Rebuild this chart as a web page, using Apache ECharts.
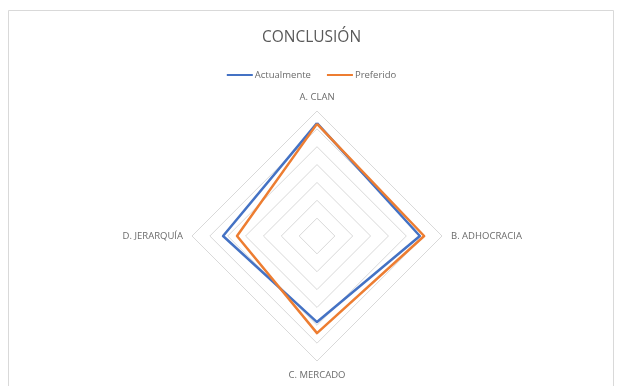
<!DOCTYPE html>
<html><head><meta charset="utf-8">
<script src="https://cdn.jsdelivr.net/npm/echarts@6/dist/echarts.min.js"></script>
<style>html,body{margin:0;padding:0;background:#fff}#c{width:623px;height:386px}</style>
</head><body><div id="c"></div>
<script>
const categories = ['A. CLAN', 'B. ADHOCRACIA', 'C. MERCADO', 'D. JERARQUÍA'];
const seriesNames = ['Actualmente', 'Preferido'];
const actualmente = [31.6, 28.8, 24.1, 26.3];
const preferido = [31.4, 30.0, 27.2, 22.4];
const axisMax = 35;
const ringCount = 7;

// ECharts places radar axes counter-clockwise; Excel goes clockwise.
const order = [0, 3, 2, 1];
const pick = arr => order.map(i => arr[i]);

const chart = echarts.init(document.getElementById('c'), null, {renderer: 'canvas'});
chart.setOption({
  animation: false,
  backgroundColor: '#fff',
  graphic: [{
    type: 'rect', shape: {x: 8.5, y: 10.5, width: 605, height: 390},
    style: {fill: 'none', stroke: '#d9d9d9', lineWidth: 1}, silent: true
  }],
  title: {
    text: 'CONCLUSIÓN', left: 'center', top: 25,
    textStyle: {color: '#595959', fontSize: 15.5, fontWeight: 'normal', fontFamily: 'Open Sans'}
  },
  legend: {
    data: seriesNames, top: 65, left: 'center', itemGap: 16,
    itemWidth: 26, itemHeight: 2, icon: 'rect',
    textStyle: {color: '#6b6b6b', fontSize: 9.5, fontFamily: 'Open Sans', padding: [0, 0, 0, -3]}
  },
  radar: {
    center: [317, 236], radius: 125, startAngle: 90,
    shape: 'polygon', splitNumber: ringCount,
    indicator: pick(categories).map(n => ({name: n, max: axisMax, min: 0})),
    axisName: {color: '#6b6b6b', fontSize: 9.5, fontFamily: 'Open Sans'},
    nameGap: 9,
    axisLine: {show: false},
    splitLine: {lineStyle: {color: '#d9d9d9', width: 1}},
    splitArea: {show: false}
  },
  series: [{
    type: 'radar', symbol: 'none',
    data: [
      {name: seriesNames[0], value: pick(actualmente), lineStyle: {color: '#4472C4', width: 2.5}, itemStyle: {color: '#4472C4'}},
      {name: seriesNames[1], value: pick(preferido), lineStyle: {color: '#ED7D31', width: 2.5}, itemStyle: {color: '#ED7D31'}}
    ]
  }]
});
</script></body></html>
